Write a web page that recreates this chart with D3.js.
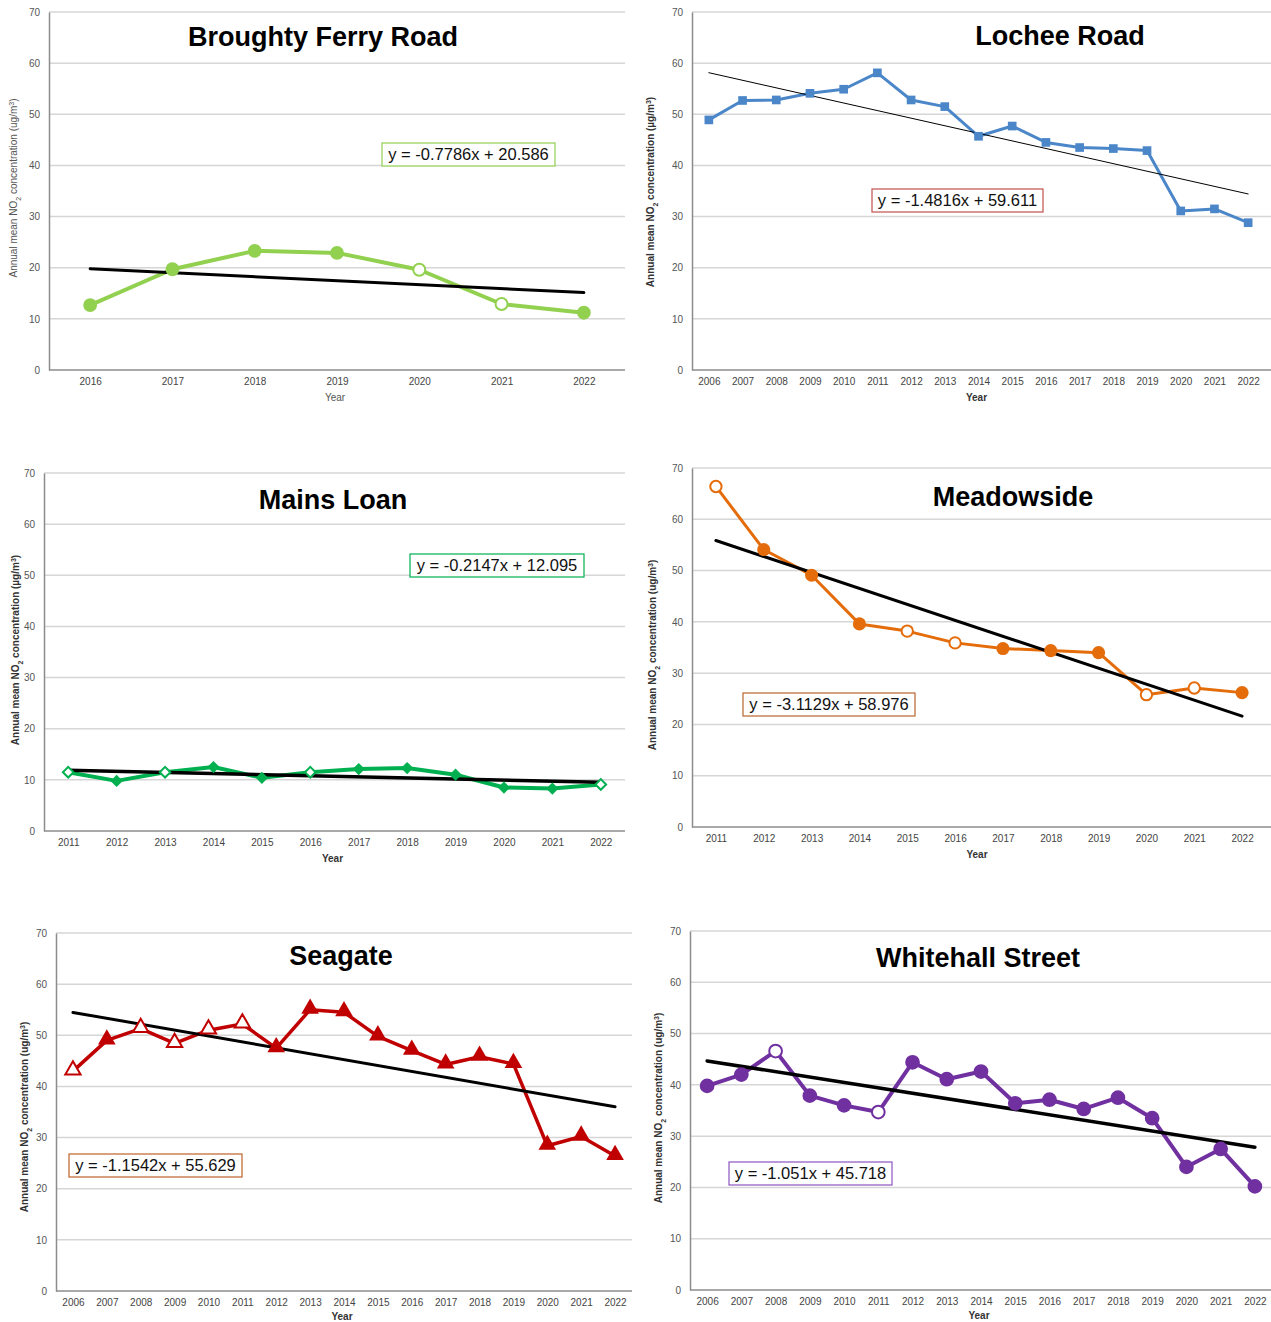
<!DOCTYPE html>
<html>
<head>
<meta charset="utf-8">
<script src="https://cdn.jsdelivr.net/npm/d3@7"></script>
<style>
  body { margin: 0; background: #fff; }
  text { font-family: "Liberation Sans", Arial, Helvetica, sans-serif; }
</style>
</head>
<body>
<div id="container"></div>
<script>
let w = 1271;
let h = 1322;

// ---- data ----
let broughtyYears = [2016, 2017, 2018, 2019, 2020, 2021, 2022];
let broughtyValues = [12.7, 19.7, 23.3, 22.9, 19.6, 12.9, 11.2];
let broughtyOpen = [2020, 2021];

let locheeYears = [2006, 2007, 2008, 2009, 2010, 2011, 2012, 2013, 2014, 2015, 2016, 2017, 2018, 2019, 2020, 2021, 2022];
let locheeValues = [48.9, 52.7, 52.8, 54.1, 54.9, 58.1, 52.8, 51.5, 45.7, 47.7, 44.5, 43.5, 43.3, 42.9, 31.1, 31.5, 28.8];
let locheeOpen = [];

let mainsYears = [2011, 2012, 2013, 2014, 2015, 2016, 2017, 2018, 2019, 2020, 2021, 2022];
let mainsValues = [11.5, 9.8, 11.5, 12.5, 10.4, 11.5, 12.1, 12.3, 11.0, 8.5, 8.3, 9.1];
let mainsOpen = [2011, 2013, 2016, 2022];

let meadowYears = [2011, 2012, 2013, 2014, 2015, 2016, 2017, 2018, 2019, 2020, 2021, 2022];
let meadowValues = [66.4, 54.1, 49.1, 39.6, 38.2, 35.9, 34.8, 34.4, 34.0, 25.8, 27.1, 26.2];
let meadowOpen = [2011, 2015, 2016, 2020, 2021];

let seagateYears = [2006, 2007, 2008, 2009, 2010, 2011, 2012, 2013, 2014, 2015, 2016, 2017, 2018, 2019, 2020, 2021, 2022];
let seagateValues = [43.0, 49.0, 51.3, 48.4, 51.0, 52.2, 47.5, 55.0, 54.5, 49.8, 47.0, 44.3, 45.8, 44.4, 28.4, 30.2, 26.4];
let seagateOpen = [2006, 2008, 2009, 2010, 2011];

let whitehallYears = [2006, 2007, 2008, 2009, 2010, 2011, 2012, 2013, 2014, 2015, 2016, 2017, 2018, 2019, 2020, 2021, 2022];
let whitehallValues = [39.8, 42.0, 46.6, 37.9, 36.0, 34.7, 44.4, 41.1, 42.6, 36.4, 37.1, 35.3, 37.5, 33.5, 24.0, 27.5, 20.2];
let whitehallOpen = [2008, 2011];

let titles = ["Broughty Ferry Road", "Lochee Road", "Mains Loan", "Meadowside", "Seagate", "Whitehall Street"];
let slopes = [-0.7786, -1.4816, -0.2147, -3.1129, -1.1542, -1.051];
let intercepts = [20.586, 59.611, 12.095, 58.976, 55.629, 45.718];
let unitLabels = ["ug", "\u00b5g", "\u00b5g", "ug", "ug", "ug"];
let yTicks = [0, 10, 20, 30, 40, 50, 60, 70];

// ---- panel layout ----
let panels = [
  {years: broughtyYears, values: broughtyValues, open: broughtyOpen,
   left: 49, right: 625, gridRight: 625, top: 12, bottom: 370, color: "#92d050", boxColor: "#92d050",
   marker: "circle", size: 150, lw: 4, trendW: 3, bold: false, yearY: 401,
   titleX: 323, titleY: 46, labelX: 13, labelY: 188, box: [382, 143, 173, 23]},
  {years: locheeYears, values: locheeValues, open: locheeOpen,
   left: 692, right: 1265, gridRight: 1271, top: 12, bottom: 370, color: "#4a86c8", boxColor: "#c0504d",
   marker: "square", size: 75, lw: 3, trendW: 1, bold: true, yearY: 401,
   titleX: 1060, titleY: 45, labelX: 650, labelY: 192, box: [872, 189, 171, 23]},
  {years: mainsYears, values: mainsValues, open: mainsOpen,
   left: 44, right: 625, gridRight: 625, top: 473, bottom: 831, color: "#00b050", boxColor: "#00b050",
   marker: "diamond", size: 75, lw: 4, trendW: 3.5, bold: true, yearY: 862,
   titleX: 333, titleY: 509, labelX: 15, labelY: 650, box: [410, 554, 174, 23]},
  {years: meadowYears, values: meadowValues, open: meadowOpen,
   left: 692, right: 1266, gridRight: 1271, top: 468, bottom: 827, color: "#e46c0a", boxColor: "#b8652c",
   marker: "circle", size: 135, lw: 3, trendW: 3, bold: true, yearY: 858,
   titleX: 1013, titleY: 506, labelX: 652, labelY: 655, box: [743, 693, 172, 23]},
  {years: seagateYears, values: seagateValues, open: seagateOpen,
   left: 56, right: 632, gridRight: 632, top: 933, bottom: 1291, color: "#c00000", boxColor: "#c0622a",
   marker: "triangle", size: 135, lw: 3.5, trendW: 3, bold: true, yearY: 1320,
   titleX: 341, titleY: 965, labelX: 24, labelY: 1117, box: [69, 1154, 173, 23]},
  {years: whitehallYears, values: whitehallValues, open: whitehallOpen,
   left: 690, right: 1272, gridRight: 1271, top: 931, bottom: 1290, color: "#7030a0", boxColor: "#8a55c0",
   marker: "circle", size: 170, lw: 4, trendW: 3.5, bold: true, yearY: 1319,
   titleX: 978, titleY: 967, labelX: 658, labelY: 1108, box: [729, 1162, 163, 23]}
];

let viz = d3.select("#container")
  .append("svg")
  .attr("width", w)
  .attr("height", h)
  .style("background-color", "white");

let symbolTypes = {
  circle: d3.symbolCircle,
  square: d3.symbolSquare,
  diamond: d3.symbolSquare,   // rotated 45deg below
  triangle: d3.symbolTriangle
};

function drawPanel(p, i) {
  let g = viz.append("g").attr("class", "panel");

  let xScale = d3.scalePoint().domain(p.years).range([p.left, p.right]).padding(0.5);
  let yScale = d3.scaleLinear().domain([0, 70]).range([p.bottom, p.top]);

  // gridlines
  g.selectAll(".grid").data(yTicks.slice(1)).enter()
    .append("line")
    .attr("x1", p.left).attr("x2", p.gridRight)
    .attr("y1", d => yScale(d)).attr("y2", d => yScale(d))
    .style("stroke", "#d6d6d6")
    .style("stroke-width", 1.5);

  // y axis
  let yAxis = d3.axisLeft(yScale).tickValues(yTicks).tickSize(0).tickPadding(9);
  let yAxisGroup = g.append("g").attr("class", "yAxis")
    .attr("transform", "translate(" + p.left + ",0)")
    .call(yAxis);
  yAxisGroup.select(".domain").style("stroke", "#8c8c8c").style("stroke-width", 1.5);
  yAxisGroup.selectAll("text").style("font-size", "10px").style("fill", "#555");

  // x axis
  let xAxis = d3.axisBottom(xScale).tickSize(0).tickPadding(8);
  let xAxisGroup = g.append("g").attr("class", "xAxis")
    .attr("transform", "translate(0," + p.bottom + ")")
    .call(xAxis);
  xAxisGroup.select(".domain").attr("d", "M" + p.left + ",0H" + p.gridRight)
    .style("stroke", "#8c8c8c").style("stroke-width", 1.5);
  xAxisGroup.selectAll("text").style("font-size", "10px").style("fill", "#444");

  // axis titles
  g.append("text")
    .attr("x", (p.left + p.right) / 2 - 2)
    .attr("y", p.yearY)
    .attr("text-anchor", "middle")
    .style("font-size", "10px")
    .style("font-weight", p.bold ? "bold" : "normal")
    .style("fill", p.bold ? "#333" : "#555")
    .text("Year");

  let yl = g.append("text")
    .attr("transform", "translate(" + p.labelX + "," + p.labelY + ") rotate(-90)")
    .attr("text-anchor", "middle")
    .attr("dy", "0.35em")
    .style("font-size", "10px")
    .style("font-weight", p.bold ? "bold" : "normal")
    .style("fill", p.bold ? "#333" : "#555");
  yl.append("tspan").text("Annual mean NO");
  yl.append("tspan").attr("baseline-shift", "sub").style("font-size", "7px").text("2");
  yl.append("tspan").text(" concentration (" + unitLabels[i] + "/m");
  yl.append("tspan").attr("baseline-shift", "super").style("font-size", "7px").text("3");
  yl.append("tspan").text(")");

  // title
  g.append("text")
    .attr("x", p.titleX).attr("y", p.titleY)
    .attr("text-anchor", "middle")
    .style("font-size", "27px")
    .style("font-weight", "bold")
    .style("fill", "#000")
    .text(titles[i]);

  // series line
  let points = p.years.map((yr, k) => ({year: yr, value: p.values[k], open: p.open.includes(yr)}));
  let line = d3.line().x(d => xScale(d.year)).y(d => yScale(d.value));
  g.append("path").datum(points)
    .attr("d", line)
    .style("fill", "none")
    .style("stroke", p.color)
    .style("stroke-width", p.lw)
    .style("stroke-linejoin", "round");

  // trend line (from the equation shown)
  let n = p.years.length;
  let trend = [
    {year: p.years[0], value: slopes[i] * 1 + intercepts[i]},
    {year: p.years[n - 1], value: slopes[i] * n + intercepts[i]}
  ];
  g.append("path").datum(trend)
    .attr("d", line)
    .style("fill", "none")
    .style("stroke", "#000")
    .style("stroke-width", p.trendW)
    .style("stroke-linecap", "round");

  // markers
  let sym = d3.symbol().type(symbolTypes[p.marker]);
  g.selectAll(".marker").data(points).enter()
    .append("path")
    .attr("class", "marker")
    .attr("d", d => sym.size(d.open ? p.size * 0.75 : p.size)())
    .attr("transform", function(d) {
      let t = "translate(" + xScale(d.year) + "," + yScale(d.value) + ")";
      if (p.marker == "diamond") t += " rotate(45)";
      if (p.marker == "triangle") t += " translate(0,-1)";
      return t;
    })
    .style("fill", d => d.open ? "#fff" : p.color)
    .style("stroke", p.color)
    .style("stroke-width", d => d.open ? 2 : 0);

  // equation box
  g.append("rect")
    .attr("x", p.box[0]).attr("y", p.box[1])
    .attr("width", p.box[2]).attr("height", p.box[3])
    .style("fill", "#fff")
    .style("stroke", p.boxColor)
    .style("stroke-width", 1.2);
  let sign = intercepts[i] < 0 ? " - " : " + ";
  g.append("text")
    .attr("x", p.box[0] + p.box[2] / 2)
    .attr("y", p.box[1] + p.box[3] / 2)
    .attr("dy", "0.36em")
    .attr("text-anchor", "middle")
    .style("font-size", "16.5px")
    .style("fill", "#111")
    .text("y = " + slopes[i] + "x" + sign + intercepts[i].toFixed(3));
}

panels.forEach(drawPanel);
</script>
</body>
</html>
